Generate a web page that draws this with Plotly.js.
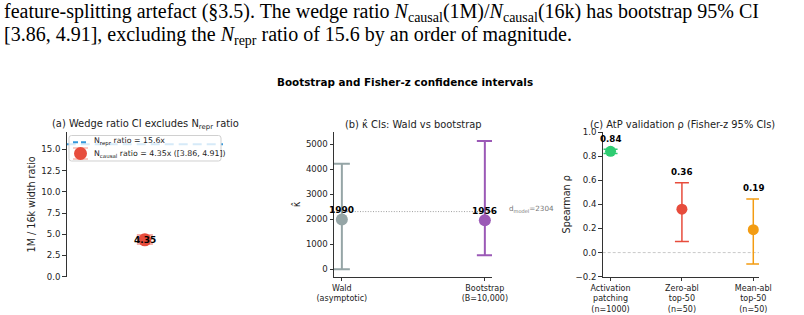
<!DOCTYPE html>
<html><head><meta charset="utf-8">
<script src="https://cdn.plot.ly/plotly-3.0.1.min.js"></script>
<style>html,body{margin:0;padding:0;background:#fff;} #chart{width:804px;height:315px;}</style>
</head><body><div id="chart"></div>
<script>
// ---- paragraph text ----
const paraLine1 = 'feature-splitting artefact (§3.5). The wedge ratio <i>N</i><sub>causal</sub>(1M)/<i>N</i><sub>causal</sub>(16k) has bootstrap 95% CI';
const paraLine2 = '[3.86, 4.91], excluding the <i>N</i><sub>repr</sub> ratio of 15.6 by an order of magnitude.';
const suptitle = '<b>Bootstrap and Fisher-z confidence intervals</b>';
const panelTitles = ['(a) Wedge ratio CI excludes N<sub>repr</sub> ratio', '(b) κ̂ CIs: Wald vs bootstrap', '(c) AtP validation ρ (Fisher-z 95% CIs)'];

// ---- panel (a) ----
const ratioVal = [4.35];
const ratioLo = [3.86];
const ratioHi = [4.91];
const reprRatio = 15.6;
const ratioTicks = [0, 2.5, 5, 7.5, 10, 12.5, 15];

// ---- panel (b) ----
const kappaMethods = ['Wald<br>(asymptotic)', 'Bootstrap<br>(B=10,000)'];
const kappaVals = [1990, 1956];
const kappaLo = [0, 558];
const kappaHi = [4210, 5118];
const kappaColors = ['#95a5a6', '#9b59b6'];
const dModel = 2304;
const kappaTicks = [0, 1000, 2000, 3000, 4000, 5000];

// ---- panel (c) ----
const atpLabels = ['Activation<br>patching<br>(n=1000)', 'Zero-abl<br>top-50<br>(n=50)', 'Mean-abl<br>top-50<br>(n=50)'];
const atpRho = [0.84, 0.36, 0.19];
const atpLo = [0.821, 0.091, -0.094];
const atpHi = [0.857, 0.580, 0.445];
const atpColors = ['#2ecc71', '#e74c3c', '#f39c12'];
const rhoTicks = [-0.2, 0, 0.2, 0.4, 0.6, 0.8, 1.0];

const W = 804, H = 315;
const px = v => v / W, py = v => (H - v) / H;
const FONT = 'DejaVu Sans';
const TXT = '#222';
const yDom = [py(276.7), py(132)];
const RED = '#e74c3c', BLUE = '#3498db';

const reprName = 'N<sub>repr</sub> ratio = ' + reprRatio + 'x';
const causalName = 'N<sub>causal</sub> ratio = ' + ratioVal[0] + 'x ([' + ratioLo[0] + ', ' + ratioHi[0] + '])';

const traces = [];
// (a)
traces.push({
  x: [-1, 1], y: [reprRatio, reprRatio], xaxis: 'x', yaxis: 'y', mode: 'lines',
  line: {color: BLUE, width: 2, dash: '9px,5px'}, name: reprName, hoverinfo: 'skip'
});
traces.push({
  x: [0], y: ratioVal, xaxis: 'x', yaxis: 'y', mode: 'markers',
  marker: {color: RED, size: 13, line: {width: 0}},
  error_y: {type: 'data', symmetric: false, array: ratioHi.map((h, i) => h - ratioVal[i]),
            arrayminus: ratioLo.map((l, i) => ratioVal[i] - l), color: 'rgba(231,76,60,0.6)', thickness: 1.5, width: 8},
  name: causalName
});
// (b)
kappaVals.forEach((v, i) => {
  traces.push({
    x: [i], y: [v], xaxis: 'x2', yaxis: 'y2', mode: 'markers', name: kappaMethods[i],
    marker: {color: kappaColors[i], size: 12, line: {width: 0}},
    error_y: {type: 'data', symmetric: false, array: [kappaHi[i] - v], arrayminus: [v - kappaLo[i]],
              color: kappaColors[i], thickness: 2, width: 8}
  });
});
// (c)
atpRho.forEach((v, i) => {
  traces.push({
    x: [i], y: [v], xaxis: 'x3', yaxis: 'y3', mode: 'markers', name: atpLabels[i],
    marker: {color: atpColors[i], size: 11, line: {width: 0}},
    error_y: {type: 'data', symmetric: false, array: [atpHi[i] - v], arrayminus: [v - atpLo[i]],
              color: atpColors[i], thickness: 1.5, width: 7}
  });
});

const annotations = [];
annotations.push({xref: 'paper', yref: 'paper', x: 0.002, y: py(13), xanchor: 'left', yanchor: 'middle', showarrow: false,
  text: paraLine1, font: {family: 'Liberation Serif', size: 20, color: '#000'}});
annotations.push({xref: 'paper', yref: 'paper', x: 0.002, y: py(35), xanchor: 'left', yanchor: 'middle', showarrow: false,
  text: paraLine2, font: {family: 'Liberation Serif', size: 20, color: '#000'}});
annotations.push({xref: 'paper', yref: 'paper', x: px(405), y: py(82), xanchor: 'center', yanchor: 'middle', showarrow: false,
  text: suptitle, font: {family: FONT, size: 10.4, color: '#000'}});
const titleX = [px(145), px(413), px(682)];
panelTitles.forEach((t, i) => annotations.push({xref: 'paper', yref: 'paper', x: titleX[i], y: py(124), xanchor: 'center', yanchor: 'middle',
  showarrow: false, text: t, font: {family: FONT, size: 9.9, color: TXT}}));
// value labels
annotations.push({xref: 'x', yref: 'y', x: 0, y: ratioVal[0], showarrow: false, yanchor: 'middle',
  text: '<b>' + ratioVal[0].toFixed(2) + '</b>', font: {family: FONT, size: 9, color: '#000'}});
kappaVals.forEach((v, i) => annotations.push({xref: 'x2', yref: 'y2', x: i, y: v, showarrow: false, yanchor: 'bottom', yshift: 2,
  text: '<b>' + v + '</b>', font: {family: FONT, size: 9, color: '#000'}}));
atpRho.forEach((v, i) => annotations.push({xref: 'x3', yref: 'y3', x: i, y: atpHi[i] + 0.03, showarrow: false, yanchor: 'bottom',
  text: '<b>' + v.toFixed(2) + '</b>', font: {family: FONT, size: 8.7, color: '#000'}}));
annotations.push({xref: 'paper', yref: 'y2', x: px(507), y: dModel, xanchor: 'left', yanchor: 'middle', yshift: 3, showarrow: false,
  text: 'd<sub>model</sub>=2304', font: {family: FONT, size: 7.2, color: '#777'}});
// legend texts (panel a)
annotations.push({xref: 'paper', yref: 'paper', x: px(92), y: py(142), xanchor: 'left', yanchor: 'middle', showarrow: false,
  text: reprName, font: {family: FONT, size: 7.8, color: TXT}});
annotations.push({xref: 'paper', yref: 'paper', x: px(92), y: py(154), xanchor: 'left', yanchor: 'middle', showarrow: false,
  text: causalName, font: {family: FONT, size: 7.8, color: TXT}});

// rounded legend frame in paper coordinates
function roundRect(l, t, r, b, rad) {
  const X = v => px(v).toFixed(5), Y = v => py(v).toFixed(5);
  return 'M' + X(l + rad) + ',' + Y(t) + ' L' + X(r - rad) + ',' + Y(t) + ' Q' + X(r) + ',' + Y(t) + ' ' + X(r) + ',' + Y(t + rad) +
    ' L' + X(r) + ',' + Y(b - rad) + ' Q' + X(r) + ',' + Y(b) + ' ' + X(r - rad) + ',' + Y(b) +
    ' L' + X(l + rad) + ',' + Y(b) + ' Q' + X(l) + ',' + Y(b) + ' ' + X(l) + ',' + Y(b - rad) +
    ' L' + X(l) + ',' + Y(t + rad) + ' Q' + X(l) + ',' + Y(t) + ' ' + X(l + rad) + ',' + Y(t) + ' Z';
}

const shapes = [
  {type: 'line', xref: 'x2 domain', yref: 'y2', x0: 0, x1: 1, y0: dModel, y1: dModel, line: {color: '#888', width: 0.8, dash: '1px,1.6px'}},
  {type: 'line', xref: 'x3 domain', yref: 'y3', x0: 0, x1: 1, y0: 0, y1: 0, line: {color: '#bbb', width: 0.8, dash: '3px,2px'}, layer: 'below'},
  // legend frame and symbols (panel a)
  {type: 'path', xref: 'paper', yref: 'paper', path: roundRect(69, 135.5, 221, 161, 2.5),
    fillcolor: 'rgba(255,255,255,0.8)', line: {color: '#d0d0d0', width: 1}},
  {type: 'line', xref: 'paper', yref: 'paper', x0: px(73), x1: px(88), y0: py(142.3), y1: py(142.3), line: {color: BLUE, width: 2, dash: '5px,3px'}},
  {type: 'line', xref: 'paper', yref: 'paper', x0: px(73), x1: px(88), y0: py(148), y1: py(148), line: {color: 'rgba(231,76,60,0.6)', width: 1}},
  {type: 'line', xref: 'paper', yref: 'paper', x0: px(73), x1: px(88), y0: py(159), y1: py(159), line: {color: 'rgba(231,76,60,0.6)', width: 1}},
  {type: 'circle', xref: 'paper', yref: 'paper', x0: px(74), x1: px(87), y0: py(160), y1: py(147), fillcolor: RED, line: {width: 0}}
];

const axBase = {showgrid: false, zeroline: false, showline: true, linecolor: '#333', linewidth: 1,
  ticks: 'outside', ticklen: 3.5, tickwidth: 1, tickcolor: '#333', tickfont: {family: FONT, size: 8.6, color: TXT}};
const xTickFont = {family: FONT, size: 8, color: TXT};
const yTitleFont = {family: FONT, size: 9.6, color: TXT};

const layout = {
  width: W, height: H, margin: {l: 0, r: 0, t: 0, b: 0},
  paper_bgcolor: '#fff', plot_bgcolor: '#fff',
  font: {family: FONT, color: TXT},
  showlegend: false,
  xaxis: {domain: [px(66.7), px(223)], range: [-1, 1], visible: false, anchor: 'y'},
  yaxis: Object.assign({}, axBase, {domain: yDom, range: [0, 17.05], tickvals: ratioTicks, tickformat: '.1f', anchor: 'x',
    title: {text: '1M / 16k width ratio', font: yTitleFont, standoff: 3}}),
  xaxis2: Object.assign({}, axBase, {domain: [px(334), px(492)], range: [-0.055, 1.05], tickvals: [0, 1], ticktext: kappaMethods, anchor: 'y2', tickfont: xTickFont}),
  yaxis2: Object.assign({}, axBase, {domain: yDom, range: [-295, 5480], tickvals: kappaTicks, anchor: 'x2',
    title: {text: 'κ̂', font: yTitleFont, standoff: 3}}),
  xaxis3: Object.assign({}, axBase, {domain: [px(602.7), px(759)], range: [-0.11, 2.08], tickvals: [0, 1, 2], ticktext: atpLabels, anchor: 'y3', tickfont: xTickFont}),
  yaxis3: Object.assign({}, axBase, {domain: yDom, range: [-0.2, 1.0], tickvals: rhoTicks, tickformat: '.1f', anchor: 'x3',
    title: {text: 'Spearman ρ', font: yTitleFont, standoff: 3}}),
  annotations: annotations,
  shapes: shapes
};

Plotly.newPlot('chart', traces, layout, {displayModeBar: false, staticPlot: true});
</script></body></html>
